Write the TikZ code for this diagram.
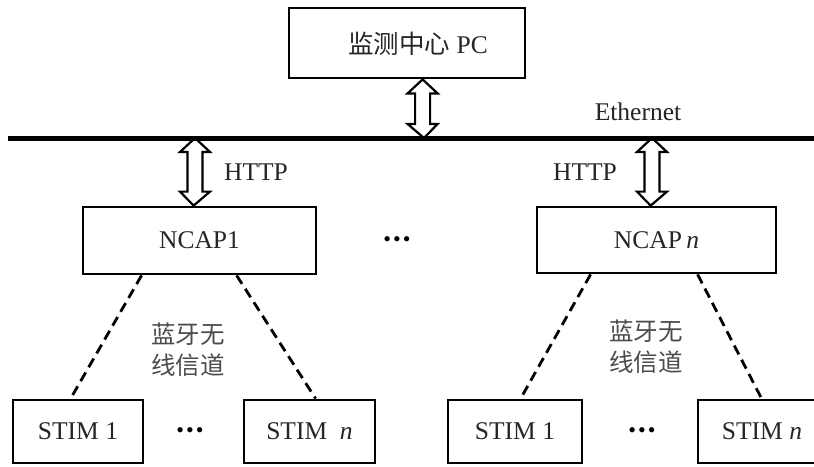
\documentclass[tikz,border=0pt]{standalone}
\usepackage{fontspec}
\setmainfont{Liberation Serif}
\newfontfamily\cjk{Noto Sans CJK SC}
\usetikzlibrary{calc}

\tikzset{
  x=1pt, y=-1pt,
  box/.style={draw, line width=2.8pt, fill=white, inner sep=0pt,
    font=\fontsize{25.5}{29}\selectfont, text=black!85},
  lbl/.style={font=\fontsize{25.5}{29}\selectfont, text=black!85, inner sep=0pt},
  cjklbl/.style={font=\cjk\fontsize{24.5}{31}\selectfont, text=black!70,
    align=center, inner sep=0pt},
  dots/.style={font=\fontsize{22}{22}\selectfont, inner sep=0pt},
  link/.style={line width=2.8pt, dash pattern=on 10pt off 6pt},
  fatarrow/.style={line width=2.2pt, fill=white, line join=miter},
  bus/.style={line width=5pt},
}

% hollow double-headed arrow between two points on a vertical line
\newcommand\dblarrow[2]{%
  \draw[fatarrow] let \p1=(#1), \p2=(#2) in
    (\x1,\y1) -- ({\x1+15pt},{\y1-14pt}) -- ({\x1+7.5pt},{\y1-14pt})
    -- ({\x1+7.5pt},{\y2+14pt}) -- ({\x1+15pt},{\y2+14pt}) -- (\x2,\y2)
    -- ({\x1-15pt},{\y2+14pt}) -- ({\x1-7.5pt},{\y2+14pt})
    -- ({\x1-7.5pt},{\y1-14pt}) -- ({\x1-15pt},{\y1-14pt}) -- cycle;}

\begin{document}
\begin{tikzpicture}
\useasboundingbox (0,0) rectangle (814,466);
\fill[white] (0,0) rectangle (814,466);

% monitoring centre
\node[box, minimum width=236pt, minimum height=70pt] (pc) at (407,43) {};
\node[lbl] (pctext) at (418,44) {{\cjk 监测中心}\ PC};

% network access processors
\node[box, minimum width=233pt, minimum height=67pt] (ncap1) at (199.5,240.5) {NCAP1};
\node[box, minimum width=239pt, minimum height=66pt] (ncapn) at (656.5,240) {NCAP\,\textit{n}};
\node[dots] (ncapdots) at (397,242) {•\hspace{2pt}•\hspace{2pt}•};

% smart transducer modules
\node[box, minimum width=130pt, minimum height=63pt] (s11) at (78,431.5) {STIM\ 1};
\node[box, minimum width=131pt, minimum height=63pt] (s1n) at (309.5,431.5) {STIM\ \ \textit{n}};
\node[box, minimum width=134pt, minimum height=63pt] (s21) at (515,431.5) {STIM 1};
\node[box, minimum width=128pt, minimum height=63pt] (s2n) at (762,431.5) {STIM \textit{n}};
\node[dots] (sdots1) at (190,433) {•\hspace{2pt}•\hspace{2pt}•};
\node[dots] (sdots2) at (642,433) {•\hspace{2pt}•\hspace{2pt}•};

% bus taps
\coordinate (busL) at (8,138);
\coordinate (busR) at (814,138);
\coordinate (tapPC) at (424,138);
\coordinate (tap1) at (195,138);
\coordinate (tapn) at (652,138);

% hollow arrows to the bus
\dblarrow{[xshift=135pt]pc.south west}{tapPC}
\dblarrow{tap1}{[xshift=112pt]ncap1.north west}
\dblarrow{tapn}{[xshift=115pt]ncapn.north west}

% Ethernet bus
\draw[bus] (busL) -- (busR);
\node[lbl] (eth) at (638,112) {Ethernet};
\node[lbl] (http1) at (256,172) {HTTP};
\node[lbl] (httpn) at (585,172) {HTTP};

% Bluetooth links
\draw[link] ([xshift=60pt]ncap1.south west) -- ([xshift=59pt]s11.north west);
\draw[link] ([xshift=155pt]ncap1.south west) -- ([xshift=73pt]s1n.north west);
\draw[link] ([xshift=55pt]ncapn.south west) -- ([xshift=74pt]s21.north west);
\draw[link] ([xshift=162pt]ncapn.south west) -- ([xshift=65pt]s2n.north west);
\node[cjklbl] (bt1) at (188,350) {蓝牙无\\线信道};
\node[cjklbl] (btn) at (646,347) {蓝牙无\\线信道};
\end{tikzpicture}
\end{document}
